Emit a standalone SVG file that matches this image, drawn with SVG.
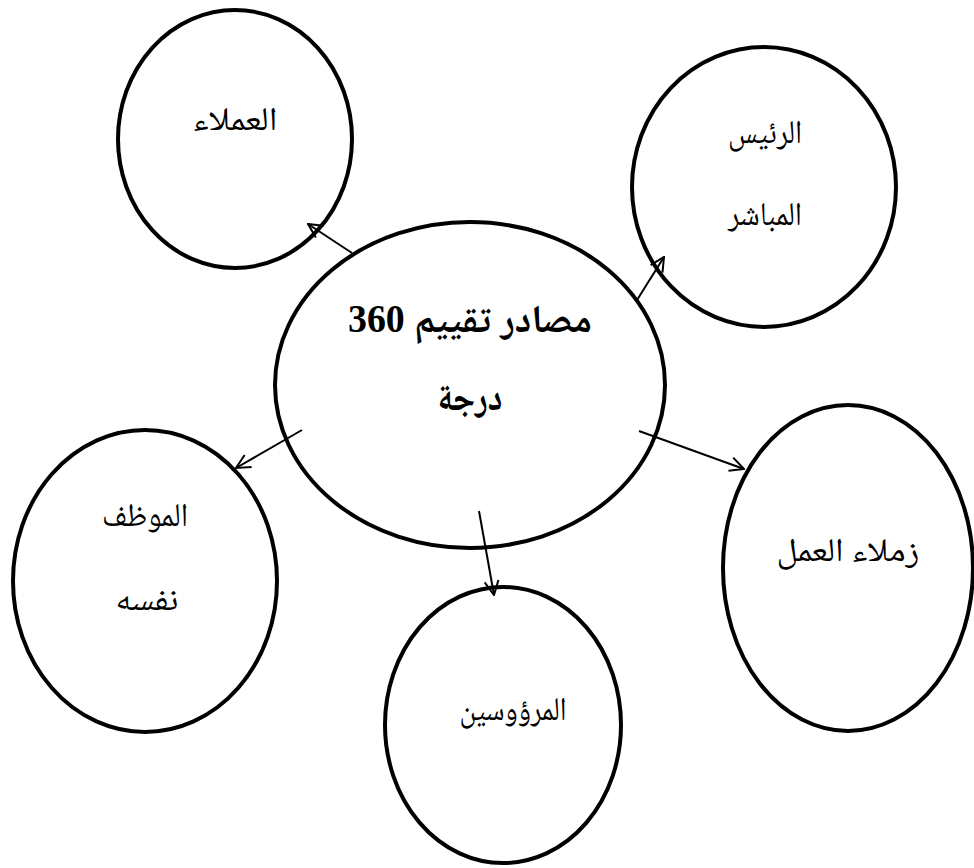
<svg xmlns="http://www.w3.org/2000/svg" width="974" height="868" viewBox="0 0 974 868">
<style>
.node ellipse{fill:#fff;stroke:#000;stroke-width:4}
.lbl{font-family:"Noto Naskh Arabic","Noto Sans Arabic","DejaVu Sans",serif;font-size:33px;fill:#000;text-anchor:middle}
.ttl{font-family:"Liberation Serif","Noto Naskh Arabic","DejaVu Sans",serif;font-size:39px;font-weight:bold;fill:#000;text-anchor:middle}
.conn line{stroke:#000;stroke-width:2;marker-end:url(#arr)}
</style>
<defs>
<marker id="arr" viewBox="0 0 16 16" refX="15" refY="8" markerWidth="16" markerHeight="16" markerUnits="userSpaceOnUse" orient="auto">
<path d="M1,1 L15,8 L1,15" fill="none" stroke="#000" stroke-width="2"/>
</marker>
</defs>
<rect width="974" height="868" fill="#fff"/>
<g id="n-clients" class="node">
<ellipse cx="235" cy="139" rx="117" ry="129"/>
<text class="lbl" x="235" y="130" direction="rtl" textLength="85" lengthAdjust="spacingAndGlyphs">العملاء</text>
</g>
<g id="n-boss" class="node">
<ellipse cx="764" cy="187" rx="132" ry="140"/>
<text class="lbl" x="765" y="143" direction="rtl" textLength="74" lengthAdjust="spacingAndGlyphs">الرئيس</text>
<text class="lbl" x="765" y="225" direction="rtl" textLength="74" lengthAdjust="spacingAndGlyphs">المباشر</text>
</g>
<g id="n-center" class="node">
<ellipse cx="470" cy="385" rx="195" ry="163"/>
<text class="ttl" x="470" y="332" direction="rtl" textLength="244" lengthAdjust="spacingAndGlyphs">مصادر تقييم 360</text>
<text class="ttl" x="470" y="410" direction="rtl" textLength="65" lengthAdjust="spacingAndGlyphs">درجة</text>
</g>
<g id="n-self" class="node">
<ellipse cx="145" cy="581" rx="132" ry="151"/>
<text class="lbl" x="145" y="526" direction="rtl" textLength="86" lengthAdjust="spacingAndGlyphs">الموظف</text>
<text class="lbl" x="147" y="610" direction="rtl" textLength="63" lengthAdjust="spacingAndGlyphs">نفسه</text>
</g>
<g id="n-subs" class="node">
<ellipse cx="503" cy="725" rx="118" ry="138"/>
<text class="lbl" x="513" y="720" direction="rtl" textLength="107" lengthAdjust="spacingAndGlyphs">المرؤوسين</text>
</g>
<g id="n-peers" class="node">
<ellipse cx="848" cy="568" rx="125" ry="163"/>
<text class="lbl" x="848" y="561" direction="rtl" textLength="143" lengthAdjust="spacingAndGlyphs">زملاء العمل</text>
</g>
<g id="connectors" class="conn">
<line x1="352" y1="253" x2="308" y2="224"/>
<line x1="637" y1="300" x2="664" y2="257"/>
<line x1="302" y1="430" x2="236" y2="468"/>
<line x1="479" y1="511" x2="494" y2="595"/>
<line x1="639" y1="431" x2="744" y2="469"/>
</g>
</svg>
